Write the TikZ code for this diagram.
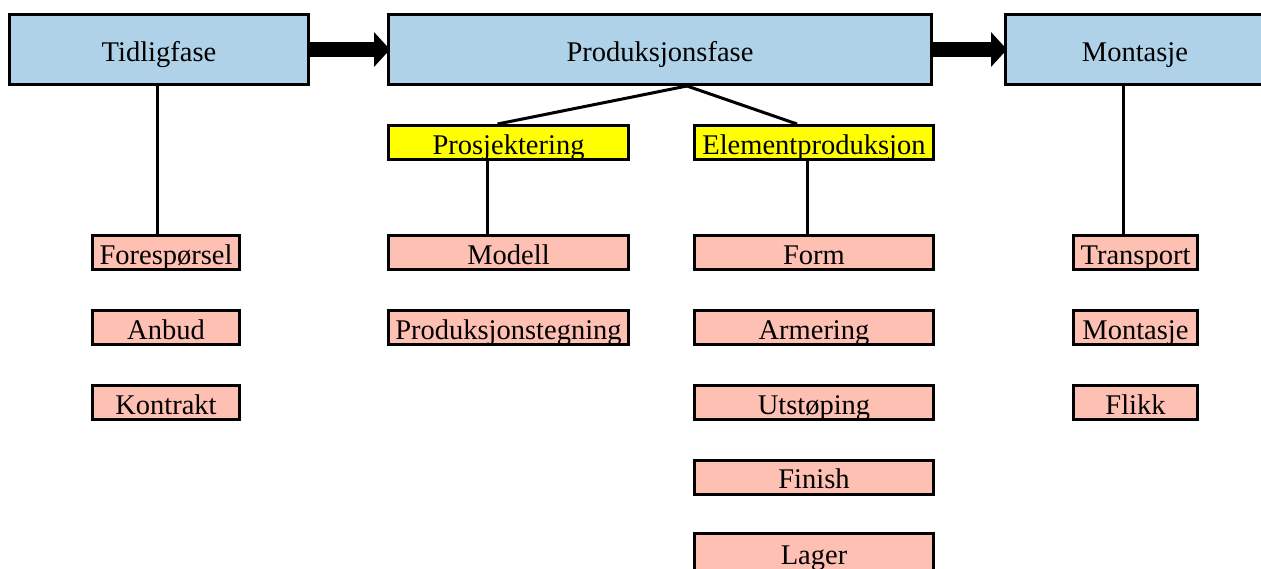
\documentclass[tikz,border=0pt]{standalone}
\usepackage{fontspec}
\setmainfont{Liberation Serif}
\usetikzlibrary{arrows.meta,calc}
\definecolor{phasefill}{RGB}{175,210,232}
\definecolor{subfill}{RGB}{255,255,0}
\definecolor{taskfill}{RGB}{255,192,180}
\begin{document}
\begin{tikzpicture}[x=1pt,y=-1pt,
  box/.style={draw, line width=3pt, inner sep=0pt, anchor=center,
    text height=25pt, text depth=2pt, font=\fontsize{28.5}{34}\selectfont},
  phasebox/.style={box, fill=phasefill, minimum height=70pt},
  subbox/.style={box, fill=subfill, minimum height=34pt},
  taskbox/.style={box, fill=taskfill, minimum height=34pt},
  link/.style={line width=3pt},
  flow/.style={line width=15pt, shorten >=-3pt, -{Triangle[length=16pt,width=34pt]}}]
\useasboundingbox (0,0) rectangle (1261,568);

% phases
\node[phasebox, minimum width=299pt] (tf) at (159,49.5) {Tidligfase};
\node[phasebox, minimum width=543pt] (pf) at (660,49.5) {Produksjonsfase};
\node[phasebox, minimum width=259pt] (mt) at (1135,49.5) {Montasje};

% flow between phases
\draw[flow] (tf.east) -- (pf.west);
\draw[flow] (pf.east) -- (mt.west);

% sub-phases of production
\node[subbox, minimum width=240pt] (pr) at (508.5,142.5) {Prosjektering};
\node[subbox, minimum width=239pt] (el) at (814,142.5) {Elementproduksjon};

% tasks: early phase
\node[taskbox, minimum width=147pt] (fo) at (166,252.5) {Forespørsel};
\node[taskbox, minimum width=147pt] (an) at (166,327.5) {Anbud};
\node[taskbox, minimum width=147pt] (ko) at (166,402.5) {Kontrakt};

% tasks: design
\node[taskbox, minimum width=240pt] (mo) at (508.5,252.5) {Modell};
\node[taskbox, minimum width=240pt] (pt) at (508.5,327.5) {Produksjonstegning};

% tasks: element production
\node[taskbox, minimum width=239pt] (fm) at (814,252.5) {Form};
\node[taskbox, minimum width=239pt] (ar) at (814,327.5) {Armering};
\node[taskbox, minimum width=239pt] (ut) at (814,402.5) {Utstøping};
\node[taskbox, minimum width=239pt] (fi) at (814,477) {Finish};
\node[taskbox, minimum width=239pt, minimum height=38pt] (la) at (814,552.5) {Lager};

% tasks: assembly
\node[taskbox, minimum width=124pt] (tr) at (1135.5,252.5) {Transport};
\node[taskbox, minimum width=124pt] (ms) at (1135.5,327.5) {Montasje};
\node[taskbox, minimum width=124pt] (fl) at (1135.5,402.5) {Flikk};

% connectors
\coordinate (apex) at ($(pf.south)+(27,0)$);
\draw[link] (apex) -- ($(pr.north)+(-11,0)$);
\draw[link] (apex) -- ($(el.north)+(-17,0)$);

\coordinate (tfdrop) at ($(tf.south)+(-2,0)$);
\draw[link] (tfdrop) -- (tfdrop |- fo.north);
\coordinate (prdrop) at ($(pr.south)+(-21.5,0)$);
\draw[link] (prdrop) -- (prdrop |- mo.north);
\coordinate (eldrop) at ($(el.south)+(-7,0)$);
\draw[link] (eldrop) -- (eldrop |- fm.north);
\coordinate (mtdrop) at ($(mt.south)+(-12,0)$);
\draw[link] (mtdrop) -- (mtdrop |- tr.north);
\end{tikzpicture}
\end{document}
